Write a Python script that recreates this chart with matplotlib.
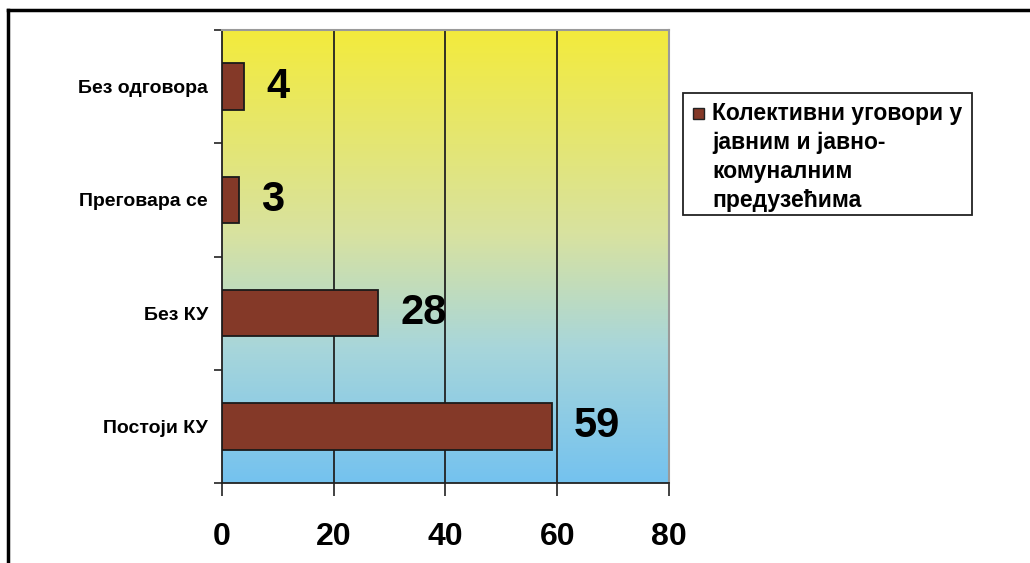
import matplotlib.pyplot as plt
import numpy as np
from matplotlib.colors import LinearSegmentedColormap
from matplotlib.patches import Rectangle
from matplotlib.lines import Line2D

plt.rcParams['font.family'] = ['Liberation Sans', 'DejaVu Sans']

categories = ['Постоји КУ', 'Без КУ', 'Преговара се', 'Без одговора']
values = [59, 28, 3, 4]
xticks = [0, 20, 40, 60, 80]
legend_label = 'Колективни уговори у\nјавним и јавно-\nкомуналним\nпредузећима'

bar_color = '#843928'

fig = plt.figure(figsize=(10.3, 5.63), dpi=100)
ax = fig.add_axes([0.2155, 0.1421, 0.434, 0.8046])

# gradient background yellow -> light blue
cmap = LinearSegmentedColormap.from_list('bg', [(0, '#74C2EF'), (0.3, '#A8D6DA'),
                                                (0.55, '#D8E2A0'), (1, '#F3EB3C')])
grad = np.linspace(0, 1, 256).reshape(-1, 1)
ax.imshow(grad, cmap=cmap, aspect='auto', extent=[0, 80, -0.5, 3.5],
          origin='lower', zorder=0)

y = np.arange(len(categories))
ax.barh(y, values, height=0.41, color=bar_color, edgecolor='#1a1a1a',
        linewidth=1.3, zorder=3)
for yi, v in zip(y, values):
    ax.text(v + 4, yi, str(v), va='center', ha='left', fontsize=30,
            fontweight='bold', zorder=4)

ax.set_xlim(0, 80)
ax.set_ylim(-0.5, 3.5)
ax.set_xticks(xticks)
ax.set_xticklabels([str(t) for t in xticks], fontsize=23, fontweight='bold')
ax.tick_params(axis='x', length=9, width=1.2, pad=19, color='#222222')
for t in xticks[1:-1]:
    ax.axvline(t, color='#222222', lw=1.3, zorder=1)

ax.set_yticks(y)
ax.set_yticklabels(categories, fontsize=14, fontweight='bold')
ax.set_yticks(np.arange(-0.5, 4, 1), minor=True)
ax.tick_params(axis='y', which='major', length=0, pad=10)
ax.tick_params(axis='y', which='minor', length=6, width=1.2, color='#222222')

for s in ['top', 'right']:
    ax.spines[s].set_color('#9a9a9a')
    ax.spines[s].set_linewidth(1.5)
for s in ['left', 'bottom']:
    ax.spines[s].set_color('#222222')
    ax.spines[s].set_linewidth(1.3)

# legend box
W, H = 1030, 563
fig.patches.append(Rectangle((683 / W, 1 - 215 / H), 289 / W, 122 / H,
                             transform=fig.transFigure, facecolor='white',
                             edgecolor='#222222', lw=1.3))
fig.patches.append(Rectangle((693 / W, 1 - 119 / H), 11 / W, 11 / H,
                             transform=fig.transFigure, facecolor=bar_color,
                             edgecolor='#222222', lw=1))
fig.text(712 / W, 1 - 102 / H, legend_label, fontsize=16.5, fontweight='bold',
         va='top', ha='left', linespacing=1.34)

# outer frame
fig.add_artist(Line2D([8 / W, 8 / W], [0, 1 - 10 / H], color='black', lw=2.5,
                      transform=fig.transFigure))
fig.add_artist(Line2D([8 / W, 1], [1 - 10 / H, 1 - 10 / H], color='black', lw=2.5,
                      transform=fig.transFigure))

fig.savefig('out.png', dpi=100)
